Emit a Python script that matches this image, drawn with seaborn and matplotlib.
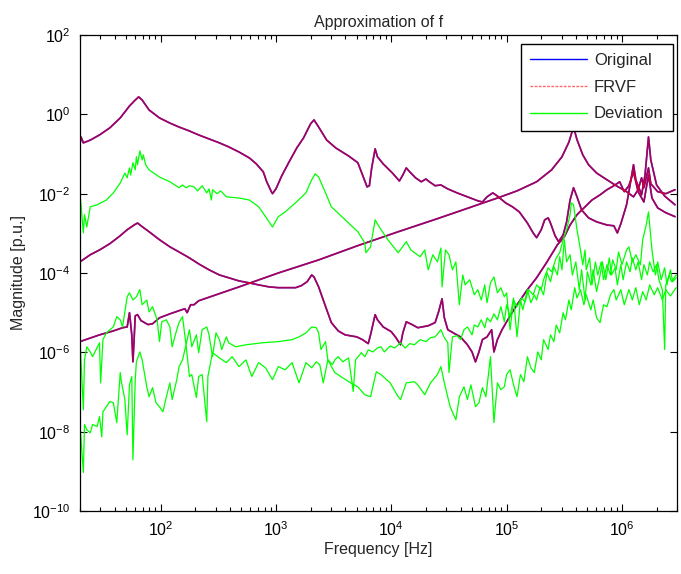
import numpy as np
import pandas as pd
import seaborn as sns
import matplotlib
matplotlib.use("Agg")
import matplotlib.pyplot as plt
from matplotlib.ticker import FixedLocator, FuncFormatter, NullFormatter
from matplotlib.lines import Line2D

# ---- data: (log10 frequency [Hz], log10 magnitude [p.u.]) ----
orig_a = [(1.30,-0.77),(1.31,-0.57),(1.33,-0.72),(1.39,-0.65),(1.47,-0.52),(1.56,-0.34),(1.65,-0.09),
          (1.73,0.21),(1.78,0.36),(1.81,0.44),(1.84,0.36),(1.90,0.11),(1.99,-0.09),(2.08,-0.22),
          (2.16,-0.32),(2.25,-0.42),(2.33,-0.52),(2.42,-0.62),(2.51,-0.72),(2.59,-0.82),(2.68,-0.95),
          (2.77,-1.10),(2.83,-1.25),(2.89,-1.45),(2.92,-1.70),(2.96,-1.95),(2.97,-2.00),(3.00,-1.88),
          (3.05,-1.55),(3.11,-1.22),(3.18,-0.85),(3.24,-0.59),(3.30,-0.24),(3.33,-0.14),(3.37,-0.32),
          (3.44,-0.65),(3.52,-0.85),(3.63,-1.05),(3.71,-1.22),(3.76,-1.60),(3.79,-1.83),(3.81,-1.80),
          (3.83,-1.35),(3.86,-0.87),(3.88,-1.07),(3.93,-1.25),(4.01,-1.48),(4.07,-1.68),(4.10,-1.53),
          (4.13,-1.35),(4.16,-1.45),(4.21,-1.60),(4.26,-1.70),(4.30,-1.63),(4.33,-1.70),(4.38,-1.80),
          (4.43,-1.78),(4.49,-1.88),(4.57,-1.98),(4.66,-2.08),(4.75,-2.18),(4.79,-2.21),(4.83,-2.08),
          (4.88,-1.98),(4.92,-2.06),(4.99,-2.23),(5.05,-2.33),(5.11,-2.46),(5.18,-2.74),(5.23,-2.99),
          (5.26,-3.11),(5.30,-2.91),(5.33,-2.66),(5.36,-2.61),(5.38,-2.74),(5.42,-3.06),(5.45,-3.21),
          (5.49,-3.04),(5.52,-2.71),(5.55,-2.16),(5.58,-1.85),(5.61,-2.08),(5.65,-2.41),(5.71,-2.61),
          (5.78,-2.71),(5.87,-2.79),(5.93,-2.81),(5.96,-2.99),(5.99,-2.76),(6.04,-2.28),(6.07,-1.78),
          (6.10,-1.27),(6.12,-1.65),(6.17,-2.03),(6.20,-1.53),(6.23,-0.57),(6.25,-1.15),(6.30,-1.78),
          (6.37,-2.06),(6.46,-2.28)]

orig_b = [(1.30,-3.72),(1.39,-3.54),(1.47,-3.42),(1.56,-3.26),(1.65,-3.06),(1.71,-2.91),(1.77,-2.79),
          (1.80,-2.74),(1.83,-2.81),(1.90,-2.96),(1.99,-3.16),(2.08,-3.34),(2.16,-3.47),(2.25,-3.62),
          (2.33,-3.77),(2.42,-3.92),(2.51,-4.05),(2.59,-4.12),(2.68,-4.20),(2.77,-4.25),(2.85,-4.30),
          (2.94,-4.35),(3.02,-4.37),(3.11,-4.37),(3.17,-4.37),(3.22,-4.32),(3.27,-4.22),(3.31,-4.05),
          (3.33,-4.10),(3.37,-4.35),(3.41,-4.68),(3.48,-5.25),(3.54,-5.46),(3.60,-5.56),(3.70,-5.61),
          (3.75,-5.68),(3.80,-5.78),(3.82,-5.56),(3.86,-5.05),(3.88,-5.18),(3.93,-5.36),(4.00,-5.48),
          (4.04,-5.63),(4.08,-5.81),(4.10,-5.51),(4.13,-5.23),(4.18,-5.30),(4.23,-5.38),(4.32,-5.33),
          (4.38,-5.25),(4.41,-4.98),(4.44,-4.65),(4.46,-5.13),(4.49,-5.43),(4.55,-5.53),(4.60,-5.61),
          (4.66,-5.81),(4.70,-5.99),(4.73,-6.24),(4.76,-5.99),(4.79,-5.68),(4.83,-5.61),(4.87,-5.43),
          (4.89,-5.99),(4.92,-5.68),(4.96,-5.43),(5.02,-5.13),(5.09,-4.80),(5.18,-4.42),(5.26,-4.12),
          (5.35,-3.72),(5.44,-3.29),(5.50,-3.09),(5.55,-2.79),(5.61,-2.53),(5.67,-2.36),(5.74,-2.16),
          (5.81,-2.03),(5.87,-1.90),(5.93,-1.80),(5.98,-1.70),(6.02,-1.95),(6.06,-1.80),(6.10,-1.45),
          (6.14,-1.95),(6.19,-2.21),(6.23,-1.53),(6.26,-2.11),(6.31,-2.36),(6.38,-2.48),(6.46,-2.58)]

orig_c = [(1.30,-5.73),(1.47,-5.56),(1.59,-5.46),(1.67,-5.38),(1.71,-5.36),(1.73,-5.00),(1.75,-5.56),
          (1.76,-6.24),(1.77,-5.68),(1.78,-5.08),(1.80,-5.05),(1.83,-5.20),(1.89,-5.30),(1.93,-5.28),
          (1.99,-5.13),(2.08,-5.03),(2.16,-4.95),(2.21,-4.90),(2.23,-5.00),(2.26,-4.80),(2.29,-4.80),
          (2.33,-4.70),(2.68,-4.35),(3.02,-4.00),(3.37,-3.67),(3.71,-3.31),(4.06,-2.96),(4.40,-2.63),
          (4.75,-2.28),(4.92,-2.11),(5.09,-1.93),(5.26,-1.70),(5.39,-1.40),(5.48,-1.07),(5.54,-0.70),
          (5.58,-0.32),(5.61,-0.64),(5.66,-1.02),(5.71,-1.27),(5.78,-1.48),(5.87,-1.65),(5.95,-1.80),
          (6.04,-1.95),(6.10,-2.08),(6.14,-1.90),(6.17,-1.60),(6.19,-1.85),(6.23,-1.35),(6.25,-1.75),
          (6.31,-1.95),(6.38,-2.00),(6.46,-1.90)]

dev_a = [(1.30,-1.98),(1.31,-2.28),(1.33,-2.99),(1.34,-2.53),(1.36,-2.84),(1.39,-2.33),(1.45,-2.28),
         (1.53,-2.16),(1.59,-1.98),(1.65,-1.73),(1.69,-1.48),(1.71,-1.60),(1.73,-1.35),(1.74,-1.53),
         (1.76,-1.22),(1.78,-1.40),(1.79,-1.07),(1.80,-1.27),(1.82,-0.92),(1.84,-1.15),(1.85,-1.02),
         (1.87,-1.27),(1.90,-1.40),(1.99,-1.58),(2.08,-1.70),(2.16,-1.85),(2.19,-1.78),(2.22,-1.85),
         (2.25,-1.80),(2.29,-1.83),(2.32,-1.93),(2.36,-1.80),(2.40,-1.98),(2.42,-1.88),(2.44,-2.16),
         (2.45,-1.90),(2.49,-2.00),(2.52,-1.93),(2.57,-2.08),(2.68,-2.11),(2.77,-2.16),(2.85,-2.33),
         (2.91,-2.58),(2.97,-2.84),(3.02,-2.58),(3.08,-2.46),(3.17,-2.23),(3.26,-1.98),(3.31,-1.65),
         (3.34,-1.50),(3.37,-1.58),(3.43,-1.98),(3.48,-2.33),(3.63,-2.74),(3.71,-2.96),(3.77,-3.24),
         (3.78,-3.49),(3.82,-3.34),(3.86,-2.66),(3.90,-2.86),(3.97,-3.16),(4.06,-3.49),(4.13,-3.21),
         (4.17,-3.42),(4.25,-3.59),(4.29,-3.42),(4.32,-3.92),(4.36,-3.54),(4.40,-3.72),(4.43,-3.37),
         (4.44,-4.35),(4.47,-3.42),(4.50,-3.54),(4.53,-3.92),(4.56,-3.72),(4.59,-4.80),(4.62,-4.05),
         (4.64,-4.30),(4.68,-4.17),(4.72,-4.55),(4.75,-4.42),(4.78,-4.68),(4.81,-4.30),(4.83,-4.75),
         (4.86,-4.25),(4.89,-4.10),(4.92,-4.50),(4.95,-4.37),(4.98,-4.60),(5.00,-4.50),(5.03,-5.43),
         (5.06,-4.68),(5.09,-4.85),(5.13,-4.63),(5.16,-4.73),(5.19,-4.42),(5.23,-4.55),(5.26,-4.30),
         (5.30,-4.42),(5.32,-4.17),(5.36,-3.87),(5.39,-3.97),(5.43,-3.62),(5.46,-3.49),(5.49,-3.16),
         (5.52,-2.91),(5.55,-2.53),(5.56,-2.23),(5.58,-2.28),(5.61,-2.91),(5.63,-3.24),(5.66,-3.79),
         (5.68,-3.42),(5.69,-3.92),(5.72,-3.62),(5.74,-4.30),(5.77,-3.72),(5.79,-4.05),(5.82,-3.72),
         (5.84,-4.17),(5.87,-3.79),(5.90,-4.05),(5.92,-3.67),(5.95,-3.92),(5.97,-3.47),(6.00,-3.79),
         (6.04,-3.42),(6.06,-3.34),(6.09,-3.72),(6.12,-3.54),(6.16,-3.79),(6.18,-3.16),(6.21,-2.79),
         (6.23,-2.46),(6.26,-3.42),(6.29,-4.05),(6.31,-3.72),(6.34,-4.17),(6.37,-3.87),(6.39,-4.30),
         (6.42,-3.92),(6.44,-4.22),(6.47,-4.12)]

dev_b = [(1.30,-5.61),(1.33,-7.45),(1.34,-6.19),(1.36,-5.86),(1.39,-5.99),(1.41,-6.11),(1.45,-5.88),
         (1.47,-5.76),(1.48,-6.77),(1.50,-5.68),(1.53,-5.51),(1.56,-5.43),(1.59,-5.36),(1.62,-5.10),
         (1.65,-5.18),(1.67,-5.36),(1.71,-4.60),(1.73,-4.50),(1.76,-4.68),(1.79,-4.60),(1.82,-4.42),
         (1.84,-4.80),(1.88,-4.68),(1.90,-4.98),(1.93,-4.85),(1.97,-5.18),(1.99,-5.73),(2.01,-5.23),
         (2.05,-5.18),(2.08,-5.36),(2.10,-5.86),(2.14,-5.43),(2.16,-5.25),(2.19,-5.10),(2.22,-5.81),
         (2.25,-5.43),(2.27,-5.86),(2.31,-5.56),(2.33,-6.01),(2.36,-5.43),(2.40,-5.36),(2.42,-5.56),
         (2.45,-6.11),(2.48,-5.51),(2.51,-5.68),(2.53,-5.93),(2.57,-5.61),(2.59,-5.76),(2.65,-5.86),
         (2.74,-5.81),(2.88,-5.76),(3.02,-5.73),(3.14,-5.68),(3.20,-5.61),(3.26,-5.51),(3.31,-5.36),
         (3.35,-5.38),(3.37,-5.51),(3.39,-5.93),(3.43,-5.73),(3.45,-6.19),(3.51,-6.51),(3.63,-6.74),
         (3.71,-6.87),(3.77,-7.07),(3.82,-7.12),(3.87,-6.49),(3.91,-6.56),(3.99,-6.77),(4.06,-7.12),
         (4.08,-7.19),(4.13,-6.77),(4.20,-6.74),(4.23,-6.82),(4.29,-7.07),(4.34,-6.77),(4.40,-6.56),
         (4.43,-6.36),(4.46,-6.77),(4.51,-7.37),(4.56,-7.70),(4.59,-7.12),(4.63,-6.87),(4.66,-7.19),
         (4.69,-6.82),(4.73,-7.37),(4.76,-7.27),(4.79,-6.89),(4.82,-7.12),(4.86,-6.11),(4.89,-7.77),
         (4.92,-6.77),(4.95,-6.94),(4.98,-6.87),(5.00,-6.56),(5.03,-6.44),(5.06,-6.82),(5.09,-7.12),
         (5.12,-6.56),(5.15,-6.74),(5.18,-6.11),(5.21,-6.39),(5.24,-6.51),(5.27,-5.99),(5.30,-6.19),
         (5.32,-5.68),(5.36,-5.93),(5.38,-5.56),(5.41,-5.73),(5.43,-5.31),(5.46,-5.51),(5.49,-5.00),
         (5.51,-5.18),(5.54,-4.68),(5.56,-4.93),(5.59,-4.37),(5.61,-4.63),(5.64,-4.42),(5.67,-4.80),
         (5.69,-4.55),(5.73,-4.93),(5.75,-4.68),(5.78,-5.13),(5.81,-5.25),(5.84,-4.80),(5.87,-4.85),
         (5.90,-4.55),(5.93,-4.42),(5.95,-4.68),(5.99,-4.42),(6.02,-4.80),(6.06,-4.42),(6.09,-4.68),
         (6.12,-4.37),(6.15,-4.80),(6.18,-4.47),(6.21,-4.68),(6.24,-4.30),(6.28,-4.55),(6.31,-4.37),
         (6.35,-4.68),(6.38,-4.42),(6.42,-4.58),(6.47,-4.37)]

dev_c = [(1.30,-7.77),(1.33,-9.03),(1.34,-7.82),(1.36,-7.95),(1.39,-8.03),(1.41,-7.82),(1.45,-7.87),
         (1.47,-7.62),(1.49,-8.13),(1.50,-7.50),(1.53,-7.37),(1.56,-7.24),(1.59,-7.27),(1.62,-7.77),
         (1.65,-6.51),(1.66,-6.74),(1.69,-7.19),(1.71,-8.08),(1.73,-6.82),(1.75,-6.61),(1.76,-8.71),
         (1.78,-6.69),(1.79,-6.24),(1.82,-5.99),(1.84,-6.19),(1.88,-6.87),(1.90,-7.12),(1.93,-6.89),
         (1.96,-7.27),(1.99,-7.37),(2.02,-7.50),(2.05,-7.12),(2.08,-6.77),(2.10,-7.19),(2.14,-6.69),
         (2.16,-6.36),(2.19,-6.19),(2.22,-5.81),(2.25,-6.61),(2.27,-6.56),(2.31,-7.14),(2.33,-6.61),
         (2.36,-6.56),(2.40,-7.75),(2.41,-6.61),(2.45,-6.01),(2.51,-6.14),(2.57,-6.26),(2.62,-6.11),
         (2.68,-6.36),(2.74,-6.19),(2.79,-6.61),(2.85,-6.26),(2.91,-6.39),(2.97,-6.69),(3.02,-6.36),
         (3.08,-6.44),(3.14,-6.26),(3.20,-6.77),(3.26,-6.26),(3.31,-6.39),(3.35,-6.24),(3.38,-6.31),
         (3.41,-6.77),(3.45,-6.19),(3.49,-6.31),(3.51,-6.19),(3.54,-6.11),(3.58,-6.24),(3.63,-6.14),
         (3.67,-6.99),(3.69,-6.19),(3.74,-6.01),(3.77,-6.11),(3.80,-5.94),(3.84,-5.99),(3.88,-5.89),
         (3.91,-5.86),(3.94,-5.99),(3.99,-5.84),(4.03,-5.89),(4.08,-5.76),(4.12,-5.89),(4.16,-5.78),
         (4.20,-5.81),(4.25,-5.68),(4.30,-5.73),(4.34,-5.63),(4.38,-5.61),(4.43,-5.43),(4.46,-5.63),
         (4.49,-5.76),(4.50,-6.51),(4.53,-5.61),(4.57,-5.58),(4.60,-5.68),(4.63,-5.43),(4.66,-5.36),
         (4.70,-5.56),(4.72,-5.31),(4.75,-5.36),(4.78,-5.18),(4.81,-5.38),(4.83,-5.13),(4.86,-5.23),
         (4.89,-5.03),(4.92,-5.18),(4.95,-4.85),(4.98,-5.23),(5.00,-4.80),(5.03,-5.10),(5.06,-4.63),
         (5.09,-5.61),(5.12,-4.68),(5.14,-4.93),(5.18,-4.42),(5.21,-4.75),(5.24,-4.55),(5.26,-4.68),
         (5.29,-4.35),(5.32,-4.55),(5.35,-3.99),(5.38,-4.22),(5.41,-3.84),(5.44,-4.05),(5.46,-3.59),
         (5.48,-3.92),(5.50,-3.16),(5.52,-3.72),(5.55,-3.54),(5.57,-4.05),(5.60,-3.72),(5.63,-4.42),
         (5.65,-3.92),(5.68,-4.68),(5.70,-3.97),(5.73,-4.30),(5.75,-3.92),(5.78,-4.47),(5.81,-4.05),
         (5.83,-3.72),(5.86,-4.17),(5.89,-3.62),(5.91,-4.05),(5.94,-3.87),(5.96,-4.30),(5.99,-3.79),
         (6.01,-4.17),(6.04,-3.72),(6.07,-3.97),(6.09,-3.62),(6.12,-3.92),(6.14,-3.72),(6.17,-4.17),
         (6.19,-3.79),(6.22,-4.05),(6.24,-3.72),(6.27,-3.97),(6.30,-3.79),(6.32,-4.17),(6.35,-4.42),
         (6.37,-5.93),(6.38,-4.30),(6.41,-4.05),(6.43,-4.22),(6.47,-4.05)]

title = "Approximation of f"
xlabel = "Frequency [Hz]"
ylabel = "Magnitude [p.u.]"
legend_labels = ["Original", "FRVF", "Deviation"]
y_ticks = [1e-10, 1e-8, 1e-6, 1e-4, 1e-2, 1e0, 1e2]
x_ticks = [1e2, 1e3, 1e4, 1e5, 1e6]
x_minor_ticks = [k * 10.0 ** e for e in range(1, 7) for k in range(2, 10)]
x_range = (20, 3e6)
y_range = (1e-10, 1e2)

# ---- style ----
sns.set_style("white")
plt.rcParams["font.family"] = ["Liberation Sans", "DejaVu Sans"]
plt.rcParams["mathtext.fontset"] = "custom"
plt.rcParams["mathtext.rm"] = "Liberation Sans"
plt.rcParams["mathtext.it"] = "Liberation Sans:italic"
plt.rcParams["mathtext.bf"] = "Liberation Sans:bold"

FS = 11.5

def to_df(pairs):
    arr = np.array(pairs, dtype=float)
    return pd.DataFrame({"f": 10 ** arr[:, 0], "m": 10 ** arr[:, 1]})

fig = plt.figure(figsize=(6.81, 5.74), dpi=100)
ax = fig.add_axes([80/681, 1 - 511/574, (677-80)/681, (511-35)/574])
ax.set_xscale("log")
ax.set_yscale("log")

line_kw = dict(x="f", y="m", estimator=None, sort=False, ax=ax, legend=False)
for pairs in (orig_a, orig_b, orig_c):
    sns.lineplot(data=to_df(pairs), color="#0000ff", lw=1.2, **line_kw)
for pairs in (orig_a, orig_b, orig_c):
    sns.lineplot(data=to_df(pairs), color="#ff0000", lw=1.2, alpha=0.65, **line_kw)
for pairs in (dev_a, dev_b, dev_c):
    sns.lineplot(data=to_df(pairs), color="#00ff00", lw=0.9, **line_kw)

ax.set_xlim(*x_range)
ax.set_ylim(*y_range)

fmt = FuncFormatter(lambda v, p: r"$10^{%d}$" % int(round(np.log10(v))))
ax.yaxis.set_major_locator(FixedLocator(y_ticks))
ax.yaxis.set_major_formatter(fmt)
ax.yaxis.set_minor_locator(FixedLocator([]))
ax.xaxis.set_major_locator(FixedLocator(x_ticks))
ax.xaxis.set_major_formatter(fmt)
ax.xaxis.set_minor_locator(FixedLocator(x_minor_ticks))
ax.xaxis.set_minor_formatter(NullFormatter())

ax.tick_params(which="both", direction="in", top=True, right=True, bottom=True, left=True,
               colors="black", labelsize=FS, width=0.8)
ax.tick_params(which="major", length=5, pad=7)
ax.tick_params(which="minor", length=3)
for s in ax.spines.values():
    s.set_color("black")
    s.set_linewidth(0.9)

ax.set_title(title, fontsize=FS, pad=6)
ax.set_xlabel(xlabel, fontsize=FS, labelpad=2)
ax.set_ylabel(ylabel, fontsize=FS, labelpad=4)

handles = [Line2D([], [], color="#0000ff", lw=1.0),
           Line2D([], [], color="#ff0000", lw=1.0, alpha=0.6, linestyle=(0, (2, 1))),
           Line2D([], [], color="#00ff00", lw=1.0)]
leg = ax.legend(handles, legend_labels, loc="upper right",
                bbox_to_anchor=((673 - 80) / 597, (511 - 44) / 476),
                fontsize=12, frameon=True, fancybox=False, framealpha=1, edgecolor="black",
                handlelength=3.4, handletextpad=0.45, borderpad=0.55, labelspacing=0.7,
                borderaxespad=0.0)
leg.get_frame().set_linewidth(1.0)

fig.savefig("out.png", dpi=100)
